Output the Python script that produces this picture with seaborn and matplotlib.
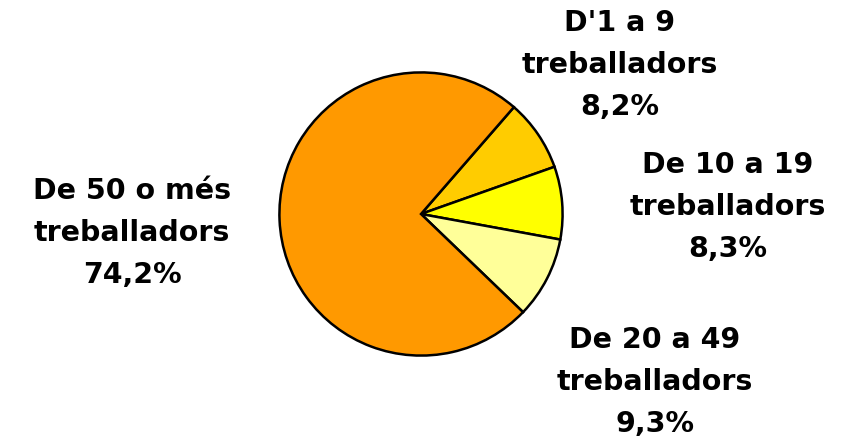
import matplotlib
matplotlib.use("Agg")
import matplotlib.pyplot as plt
import seaborn as sns

sns.set_theme(style="white")
plt.rcParams['font.family'] = ['DejaVu Sans']

categories = ["D'1 a 9\ntreballadors", "De 10 a 19\ntreballadors",
              "De 20 a 49\ntreballadors", "De 50 o més\ntreballadors"]
values = [8.2, 8.3, 9.3, 74.2]
value_labels = ["8,2%", "8,3%", "9,3%", "74,2%"]
colors = ["#FFCC00", "#FFFF00", "#FFFF99", "#FF9900"]

W, H = 841, 440
fig = plt.figure(figsize=(W / 100, H / 100), dpi=100)
cx, cy, r = 421, 226, 143
ax = fig.add_axes([(cx - r) / W, (cy - r) / H, 2 * r / W, 2 * r / H])
ax.pie(values, colors=colors, startangle=49, counterclock=False,
       wedgeprops=dict(edgecolor="black", linewidth=1.8))
ax.set_xlim(-1.01, 1.01)
ax.set_ylim(-1.01, 1.01)
ax.set_aspect("equal")
ax.axis("off")

# label centers in pixel coords (x, y of middle line from top)
label_pos = [(620, 65), (728, 207), (655, 382), (132, 233)]
for (x, y), cat, val in zip(label_pos, categories, value_labels):
    fig.text(x / W, 1 - y / H, cat + "\n" + val, ha="center", va="center",
             fontsize=20.5, fontweight="bold", color="black", linespacing=1.64)

fig.savefig("out.png", dpi=100)
